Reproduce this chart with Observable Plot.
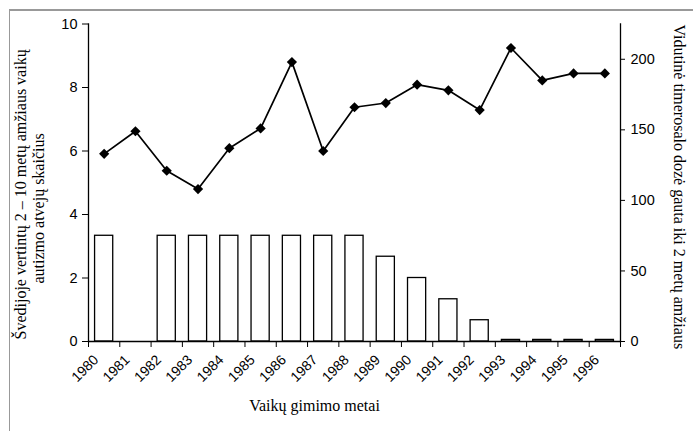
<!DOCTYPE html>
<html><head><meta charset="utf-8">
<script src="https://cdn.jsdelivr.net/npm/d3@7"></script>
<script src="https://cdn.jsdelivr.net/npm/@observablehq/plot@0.6"></script>
<style>
body{margin:0;background:#fff;}
#wrap{position:relative;width:693px;height:431px;overflow:hidden;background:#fff;}
#border{position:absolute;left:9px;top:9px;width:800px;height:600px;border-left:1px solid #999;border-top:2px solid #999;pointer-events:none;}
</style></head><body><div id="wrap"></div>
<script>
const years = [1980,1981,1982,1983,1984,1985,1986,1987,1988,1989,1990,1991,1992,1993,1994,1995,1996];
const autismCases = [3.33,0,3.33,3.33,3.33,3.33,3.33,3.33,3.33,2.67,2.0,1.33,0.67,0.05,0.05,0.05,0.05];
const thimerosalDose = [133,149,121,108,137,151,198,135,166,169,182,178,164,208,185,190,190];
const leftTicks = [0,2,4,6,8,10];
const rightTicks = [0,50,100,150,200];
const leftLabel1 = "Švedijoje vertintų 2 – 10 metų amžiaus vaikų";
const leftLabel2 = "autizmo atvejų skaičius";
const rightLabel = "Vidutinė timerosalo dozė gauta iki 2 metų amžiaus";
const xLabel = "Vaikų gimimo metai";

const K = 22.5; // right-axis units per left-axis unit (0–225 vs 0–10)
const rows = years.map((y,i)=>({year:y, autism:autismCases[i], dose:thimerosalDose[i]}));
const boundaries = [...years.map(y=>y-0.5), years[years.length-1]+0.5];
const serif = "Liberation Serif, Times New Roman, serif";

const chart = Plot.plot({
  width:693, height:431,
  marginLeft:88, marginRight:73, marginTop:23.5, marginBottom:90,
  style:{fontFamily:"Liberation Sans, Arial, sans-serif", fontSize:"13.5px", color:"#000", background:"transparent", overflow:"visible"},
  x:{type:"linear", domain:[years[0]-0.5, years[years.length-1]+0.5]},
  y:{domain:[0,10]},
  marks:[
    Plot.rect(rows.filter(d=>d.autism>0), {x1:d=>d.year-0.29, x2:d=>d.year+0.29, y1:0, y2:"autism", fill:"white", stroke:"black", strokeWidth:1.3}),
    Plot.ruleY([0], {stroke:"black", strokeWidth:1.3}),
    Plot.frame({anchor:"left", stroke:"black", strokeWidth:1.3}),
    Plot.frame({anchor:"right", stroke:"black", strokeWidth:1.3}),
    Plot.line(rows, {x:"year", y:d=>d.dose/K, stroke:"black", strokeWidth:1.7}),
    Plot.dot(rows, {x:"year", y:d=>d.dose/K, symbol:"diamond2", r:4.6, fill:"black", stroke:"none"}),
    Plot.axisY({anchor:"left", ticks:leftTicks, tickSize:6, tickPadding:5, label:null, fontSize:14.5}),
    Plot.axisY({anchor:"right", ticks:rightTicks.map(v=>v/K), tickFormat:d=>String(Math.round(d*K)), tickSize:4, tickPadding:6, label:null, fontSize:14.5}),
    Plot.axisX({ticks:boundaries, tickFormat:()=>"", tickSize:6, label:null}),
    Plot.axisX({ticks:years, tickFormat:d=>String(d), tickSize:0, tickRotate:-45, tickPadding:10, dx:-8, dy:6, label:null, fontSize:14}),
    Plot.text([leftLabel1], {text:d=>d, frameAnchor:"bottom-left", textAnchor:"start", lineAnchor:"middle", rotate:-90, dx:-68, dy:-2, fontFamily:serif, fontSize:16}),
    Plot.text([leftLabel2], {text:d=>d, frameAnchor:"bottom-left", textAnchor:"start", lineAnchor:"middle", rotate:-90, dx:-50, dy:-58, fontFamily:serif, fontSize:16}),
    Plot.text([rightLabel], {text:d=>d, frameAnchor:"right", textAnchor:"middle", lineAnchor:"middle", rotate:90, dx:59, dy:4, fontFamily:serif, fontSize:16}),
    Plot.text([xLabel], {text:d=>d, frameAnchor:"bottom", dx:-40, dy:69, fontFamily:serif, fontSize:16})
  ]
});
const wrap = document.getElementById("wrap");
wrap.appendChild(chart);
const b = document.createElement("div"); b.id="border"; wrap.appendChild(b);
</script>
</body></html>
